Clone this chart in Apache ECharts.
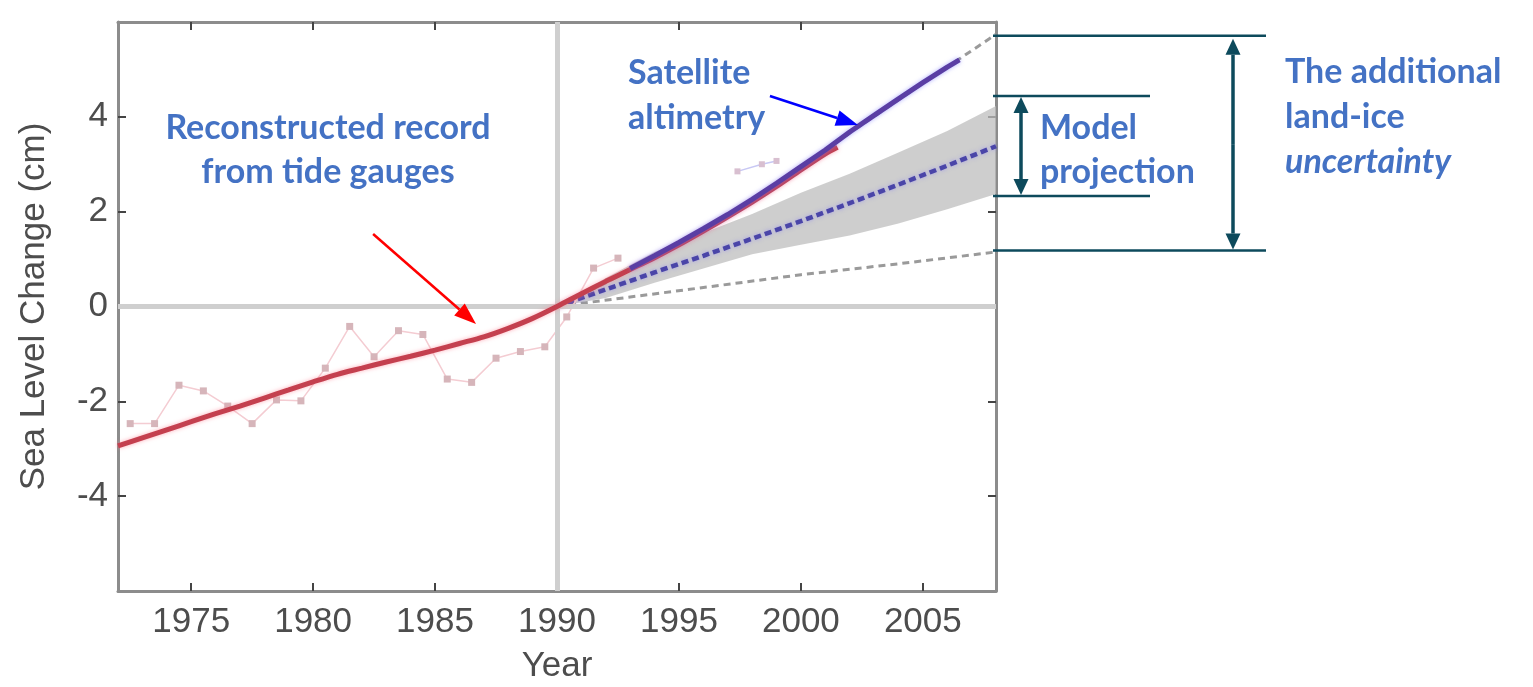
<!DOCTYPE html>
<html><head><meta charset="utf-8">
<script src="https://cdn.jsdelivr.net/npm/echarts@6/dist/echarts.min.js"></script>
<style>html,body{margin:0;padding:0;background:#fff}#c{width:1533px;height:687px}</style>
</head><body><div id="c"></div>
<script>
// ---- tick labels ----
const xTickLabels = [1975, 1980, 1985, 1990, 1995, 2000, 2005];
const yTickLabels = [-4, -2, 0, 2, 4];

// ---- annual tide-gauge record (thin, markers) ----
const tideYears  = [1972.5,1973.5,1974.5,1975.5,1976.5,1977.5,1978.5,1979.5,1980.5,1981.5,1982.5,1983.5,1984.5,1985.5,1986.5,1987.5,1988.5,1989.5,1990.4,1991.5,1992.5];
const tideValues = [-2.47,-2.47,-1.66,-1.78,-2.1,-2.47,-1.97,-1.99,-1.3,-0.42,-1.06,-0.51,-0.59,-1.53,-1.6,-1.09,-0.95,-0.85,-0.22,0.81,1.02];

// ---- smoothed tide-gauge reconstruction (thick red) ----
const tideSmoothYears  = [1972,1973,1974,1975,1976,1977,1978,1979,1980,1981,1982,1983,1984,1985,1986,1987,1988,1989,1990,1991,1992,1993,1994,1995,1996,1997,1998,1999,2000,2001,2001.5];
const tideSmoothValues = [-2.94,-2.77,-2.6,-2.43,-2.26,-2.1,-1.93,-1.76,-1.59,-1.43,-1.3,-1.17,-1.05,-0.92,-0.78,-0.64,-0.46,-0.25,0,0.27,0.53,0.78,1.03,1.3,1.59,1.89,2.2,2.53,2.88,3.22,3.36];

// ---- satellite altimetry (thick) ----
const satYears  = [1993,1994,1995,1996,1997,1998,1999,2000,2001,2002,2003,2004,2005,2006,2006.5];
const satValues = [0.8,1.07,1.35,1.64,1.94,2.26,2.6,2.95,3.3,3.68,4.03,4.38,4.72,5.05,5.2];

// ---- satellite annual (thin, visible part) ----
const satAnnualYears  = [1997.4,1998.4,1999.0];
const satAnnualValues = [2.85,3.0,3.07];

// ---- model projection (central, blue dashed) and range band ----
const projYears = [1990,1992,1994,1996,1998,2000,2002,2004,2006,2008];
const projMid   = [0,0.36,0.72,1.07,1.43,1.8,2.18,2.57,2.97,3.38];
const projLow   = [0,0.18,0.5,0.8,1.1,1.3,1.5,1.75,2.05,2.37];
const projHigh  = [0,0.6,1.15,1.55,1.95,2.4,2.8,3.25,3.7,4.23];

// ---- gray dashed scenario lines ----
const lowDashYears  = [1990,1993,1996,2000,2004,2008];
const lowDashValues = [0,0.2,0.4,0.67,0.9,1.15];
const upDashYears   = [1990,1992,1994,1996,1998,2000,2002,2004,2006,2008];
const upDashValues  = [0,0.5,1.05,1.62,2.24,2.93,3.66,4.36,5.05,5.74];

// ---- annotation levels (cm) ----
const bracketLevels = { addTop: 5.71, modelTop: 4.44, modelBottom: 2.33, addBottom: 1.18 };

const zip = (a, b) => a.map((v, i) => [v, b[i]]);
const AX = '#8c8c8c', LBL = '#4d4d4d', FONT = '"Liberation Sans", Arial, sans-serif';

const chart = echarts.init(document.getElementById('c'));
const tickBase = { show: true, inside: true, length: 8, lineStyle: { color: '#444', width: 2 } };

chart.setOption({
  animation: false,
  backgroundColor: '#fff',
  grid: { left: 118, right: 537, top: 22, bottom: 96, containLabel: false, outerBoundsMode: 'none' },
  xAxis: [{
    type: 'value', min: 1972, max: 2008, position: 'bottom',
    name: 'Year', nameLocation: 'middle', nameGap: 58,
    nameTextStyle: { fontSize: 35, color: LBL, fontFamily: FONT },
    axisLine: { show: true, onZero: false, lineStyle: { color: AX, width: 3 } },
    axisTick: Object.assign({}, tickBase, { customValues: xTickLabels }),
    axisLabel: { customValues: xTickLabels, fontSize: 35, color: LBL, fontFamily: FONT, margin: 14, formatter: v => String(v) },
    splitLine: { show: false }
  }, {
    type: 'value', min: 1972, max: 2008, position: 'top',
    axisLine: { show: true, onZero: false, lineStyle: { color: AX, width: 3 } },
    axisTick: Object.assign({}, tickBase, { customValues: xTickLabels }),
    axisLabel: { show: false }, splitLine: { show: false }
  }],
  yAxis: [{
    type: 'value', min: -6, max: 6, position: 'left',
    name: 'Sea Level Change (cm)', nameLocation: 'middle', nameGap: 66, nameRotate: 90,
    nameTextStyle: { fontSize: 35, color: LBL, fontFamily: FONT },
    axisLine: { show: true, onZero: false, lineStyle: { color: AX, width: 3 } },
    axisTick: Object.assign({}, tickBase, { customValues: yTickLabels }),
    axisLabel: { customValues: yTickLabels, fontSize: 35, color: LBL, fontFamily: FONT, margin: 10, formatter: v => String(v) },
    splitLine: { show: false }
  }, {
    type: 'value', min: -6, max: 6, position: 'right',
    axisLine: { show: true, onZero: false, lineStyle: { color: AX, width: 3 } },
    axisTick: Object.assign({}, tickBase, { customValues: yTickLabels }),
    axisLabel: { show: false }, splitLine: { show: false }
  }],
  series: [
    { // reference lines at 0 cm and 1990
      type: 'line', data: [], silent: true, z: 1,
      markLine: { silent: true, symbol: 'none', label: { show: false },
        lineStyle: { color: '#cfcfcf', width: 5, type: 'solid' },
        data: [{ yAxis: 0 }, { xAxis: 1990 }] }
    },
    { // projection range band
      type: 'custom', z: 2, silent: true,
      data: projYears.map((y, i) => [y, projLow[i], projHigh[i]]),
      renderItem: function (params, api) {
        if (params.dataIndex !== 0) return null;
        const pts = [];
        for (let i = 0; i < projYears.length; i++) pts.push(api.coord([projYears[i], projHigh[i]]));
        for (let i = projYears.length - 1; i >= 0; i--) pts.push(api.coord([projYears[i], projLow[i]]));
        return { type: 'polygon', shape: { points: pts }, style: { fill: 'rgba(190,190,190,0.75)' } };
      }
    },
    { type: 'line', data: zip(lowDashYears, lowDashValues), showSymbol: false, z: 3,
      lineStyle: { color: '#9a9a9a', width: 3, type: [7, 5] } },
    { type: 'line', data: zip(upDashYears, upDashValues), showSymbol: false, z: 3,
      lineStyle: { color: '#9a9a9a', width: 3, type: [7, 5] } },
    { type: 'line', data: zip(projYears, projMid), showSymbol: false, z: 4,
      lineStyle: { color: '#4a45a8', width: 4.5, type: [7, 4], shadowColor: 'rgba(120,110,255,0.5)', shadowBlur: 4 } },
    { type: 'line', data: zip(tideYears, tideValues), z: 4, symbol: 'rect', symbolSize: 7, showSymbol: true,
      lineStyle: { color: '#f4ccd2', width: 1.5 }, itemStyle: { color: '#d6b5ba' } },
    { type: 'line', data: zip(satAnnualYears, satAnnualValues), z: 4, symbol: 'rect', symbolSize: 6,
      lineStyle: { color: '#c8c8f4', width: 1.5 }, itemStyle: { color: '#d8bfd0' } },
    { type: 'line', data: zip(tideSmoothYears, tideSmoothValues), showSymbol: false, z: 5, smooth: 0.3,
      lineStyle: { color: '#c4404f', width: 5, shadowColor: 'rgba(255,120,140,0.6)', shadowBlur: 4 } },
    { type: 'line', data: zip(satYears, satValues), showSymbol: false, z: 6,
      lineStyle: { color: '#5a3ea4', width: 5, shadowColor: 'rgba(120,120,255,0.6)', shadowBlur: 4 } }
  ]
});

// ---- annotations ----
const P = (x, y) => chart.convertToPixel({ xAxisIndex: 0, yAxisIndex: 0 }, [x, y]);
const g = [];
function arrow(p0, p1, color, w, hl, hw) {
  const dx = p1[0] - p0[0], dy = p1[1] - p0[1], L = Math.hypot(dx, dy), ux = dx / L, uy = dy / L;
  const bx = p1[0] - ux * hl, by = p1[1] - uy * hl;
  g.push({ type: 'line', shape: { x1: p0[0], y1: p0[1], x2: bx, y2: by }, style: { stroke: color, lineWidth: w }, z: 50 });
  g.push({ type: 'polygon', shape: { points: [p1, [bx - uy * hw / 2, by + ux * hw / 2], [bx + uy * hw / 2, by - ux * hw / 2]] }, style: { fill: color }, z: 50 });
}
function dblArrow(x, yTop, yBot, color, w, hl, hw) {
  const mid = (yTop + yBot) / 2;
  arrow([x, mid], [x, yTop], color, w, hl, hw);
  arrow([x, mid], [x, yBot], color, w, hl, hw);
}
const TEAL = '#0d4a5c', BLUE = '#4472c4';
arrow(P(1982.46, 1.53), P(1986.68, -0.37), '#ff0000', 2.5, 22, 16);
arrow(P(1998.73, 4.44), P(2002.34, 3.83), '#0000ff', 2.5, 22, 16);
const xR = P(2008, 0)[0] - 3;
const yAT = P(2008, bracketLevels.addTop)[1], yMT = P(2008, bracketLevels.modelTop)[1];
const yMB = P(2008, bracketLevels.modelBottom)[1], yAB = P(2008, bracketLevels.addBottom)[1];
[[yAT, 1266], [yMT, 1150], [yMB, 1150], [yAB, 1266]].forEach(([y, x2]) =>
  g.push({ type: 'line', shape: { x1: xR, y1: y, x2: x2, y2: y }, style: { stroke: TEAL, lineWidth: 2.5 }, z: 50 }));
dblArrow(1021, yMT + 1, yMB - 1, TEAL, 3.5, 16, 15);
dblArrow(1233, yAT + 3, yAB - 1, TEAL, 3.5, 16, 15);
const AF = 'bold 34px Lato, "Open Sans", sans-serif';
function txt(t, x, y, align, italic) {
  g.push({ type: 'text', z: 60, style: { text: t, x: x, y: y, fill: BLUE, font: (italic ? 'italic ' : '') + AF, align: align, verticalAlign: 'middle' } });
}
txt('Reconstructed record', 328, 128, 'center');
txt('from tide gauges', 328, 172, 'center');
txt('Satellite', 628, 73, 'left');
txt('altimetry', 628, 118, 'left');
txt('Model', 1040, 128, 'left');
txt('projection', 1040, 172, 'left');
txt('The additional', 1285, 72, 'left');
txt('land-ice', 1285, 117, 'left');
txt('uncertainty', 1285, 162, 'left', true);
chart.setOption({ graphic: g });
</script>
</body></html>
